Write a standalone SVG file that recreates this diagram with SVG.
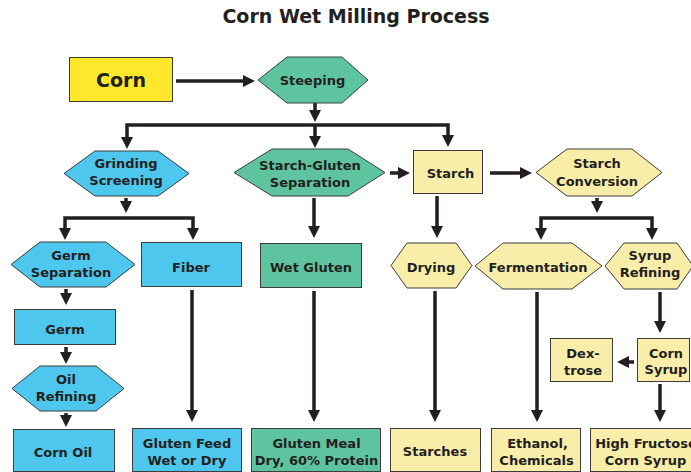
<svg xmlns="http://www.w3.org/2000/svg" width="691" height="472" viewBox="0 0 691 472">
<defs>
<style>
.t{font-family:"DejaVu Sans","Liberation Sans",Arial,sans-serif;font-weight:bold;font-size:13px;fill:#231f20;text-anchor:middle}
.big{font-size:19px}
.blue{fill:#4dc7ee;stroke:#3c3c3c;stroke-width:1}
.green{fill:#5ec4a0;stroke:#3c3c3c;stroke-width:1}
.pale{fill:#f9eea9;stroke:#3c3c3c;stroke-width:1}
.corn{fill:#fde82b;stroke:#3c3c3c;stroke-width:1}
.c{fill:none;stroke:#231f20;stroke-width:3.5;marker-end:url(#ah)}
.cs{marker-start:url(#ah)}
</style>
<marker id="ah" markerUnits="userSpaceOnUse" markerWidth="12" markerHeight="12" viewBox="0 0 12 12" refX="2" refY="6" orient="auto-start-reverse">
<path d="M0,0 L12,6 L0,12 z" fill="#231f20"/>
</marker>
</defs>
<rect width="691" height="472" fill="#ffffff"/>
<text class="t big" x="356" y="23.3">Corn Wet Milling Process</text>

<g id="connectors">
<path class="c" d="M176,81 H245"/>
<path class="c" d="M315,103 V112"/>
<path class="c cs" d="M127,139 V125 H448 V137"/>
<path class="c" d="M315,125 V138"/>
<path class="c" d="M390,173 H400"/>
<path class="c" d="M490,173 H522"/>
<path class="c" d="M126,198 V203"/>
<path class="c cs" d="M65,230 V218 H193 V230"/>
<path class="c" d="M314,198 V228"/>
<path class="c" d="M437,196 V228"/>
<path class="c" d="M597,198 V203"/>
<path class="c cs" d="M541,230 V218 H652 V230"/>
<path class="c" d="M66,289 V295"/>
<path class="c" d="M192,290 V412"/>
<path class="c" d="M314,291 V412"/>
<path class="c" d="M435,291 V412"/>
<path class="c" d="M537,292 V412"/>
<path class="c" d="M660,292 V323"/>
<path class="c" d="M66,347 V354"/>
<path class="c" d="M66,413 V417"/>
<path class="c" d="M634,362 H627"/>
<path class="c" d="M660,384 V412"/>
</g>

<g id="corn"><rect class="corn" x="69.5" y="57.5" width="103" height="44"/><text class="t big" x="121" y="87.3">Corn</text></g>
<g id="steeping"><polygon class="green" points="258,80 287,57 342,57 368,80 342,103 287,103"/><text class="t" x="312.5" y="85">Steeping</text></g>

<g id="grinding"><polygon class="blue" points="64,173.5 95,151 158,151 189,173.5 158,196 95,196"/><text class="t" x="126" y="168">Grinding</text><text class="t" x="126" y="185">Screening</text></g>
<g id="starch-gluten"><polygon class="green" points="234,172.5 272,149 348,149 385,172.5 348,196 272,196"/><text class="t" x="310" y="169.5">Starch-Gluten</text><text class="t" x="310" y="187">Separation</text></g>
<g id="starch"><rect class="pale" x="413.5" y="150.5" width="69" height="43"/><text class="t" x="450.5" y="178">Starch</text></g>
<g id="starch-conversion"><polygon class="pale" points="536,172.5 567,149 632,149 662,172.5 632,196 567,196"/><text class="t" x="597" y="168">Starch</text><text class="t" x="597" y="185.5">Conversion</text></g>

<g id="germ-separation"><polygon class="blue" points="11,264.5 40,242 106,242 135,264.5 106,287 40,287"/><text class="t" x="71" y="260">Germ</text><text class="t" x="71" y="277">Separation</text></g>
<g id="fiber"><rect class="blue" x="141.5" y="242.5" width="100" height="44"/><text class="t" x="191" y="271.5">Fiber</text></g>
<g id="wet-gluten"><rect class="green" x="260.5" y="243.5" width="101" height="44"/><text class="t" x="311" y="271.5">Wet Gluten</text></g>
<g id="drying"><polygon class="pale" points="391,265.5 407,243 456,243 472,265.5 456,288 407,288"/><text class="t" x="431" y="271.5">Drying</text></g>
<g id="fermentation"><polygon class="pale" points="475,266 503,243 572,243 602,266 572,289 503,289"/><text class="t" x="538" y="271.5">Fermentation</text></g>
<g id="syrup-refining"><polygon class="pale" points="605,266 624,243 677,243 693,266 677,289 624,289"/><text class="t" x="650" y="260">Syrup</text><text class="t" x="650" y="277">Refining</text></g>

<g id="germ"><rect class="blue" x="14.5" y="309.5" width="101" height="35"/><text class="t" x="65" y="333.5">Germ</text></g>
<g id="oil-refining"><polygon class="blue" points="12,388.5 40,366 96,366 124,388.5 96,411 40,411"/><text class="t" x="66" y="384">Oil</text><text class="t" x="66" y="400.5">Refining</text></g>
<g id="corn-syrup"><rect class="pale" x="637.5" y="338.5" width="52" height="43"/><text class="t" x="666" y="357.5">Corn</text><text class="t" x="666" y="374">Syrup</text></g>
<g id="dextrose"><rect class="pale" x="550.5" y="338.5" width="62" height="43"/><text class="t" x="583" y="357.5">Dex-</text><text class="t" x="583" y="374.5">trose</text></g>

<g id="corn-oil"><rect class="blue" x="13.5" y="429.5" width="101" height="42"/><text class="t" x="63" y="457">Corn Oil</text></g>
<g id="gluten-feed"><rect class="blue" x="132.5" y="428.5" width="109" height="43"/><text class="t" x="187" y="448">Gluten Feed</text><text class="t" x="187" y="465">Wet or Dry</text></g>
<g id="gluten-meal"><rect class="green" x="251.5" y="428.5" width="129" height="43"/><text class="t" x="316.5" y="448">Gluten Meal</text><text class="t" x="316.5" y="465">Dry, 60% Protein</text></g>
<g id="starches"><rect class="pale" x="390.5" y="428.5" width="90" height="43"/><text class="t" x="435" y="456">Starches</text></g>
<g id="ethanol"><rect class="pale" x="491.5" y="428.5" width="89" height="43"/><text class="t" x="537.5" y="448">Ethanol,</text><text class="t" x="536.5" y="465">Chemicals</text></g>
<g id="hfcs"><rect class="pale" x="590.5" y="428.5" width="112" height="43"/><text class="t" x="646" y="448">High Fructose</text><text class="t" x="645.5" y="465">Corn Syrup</text></g>
</svg>
